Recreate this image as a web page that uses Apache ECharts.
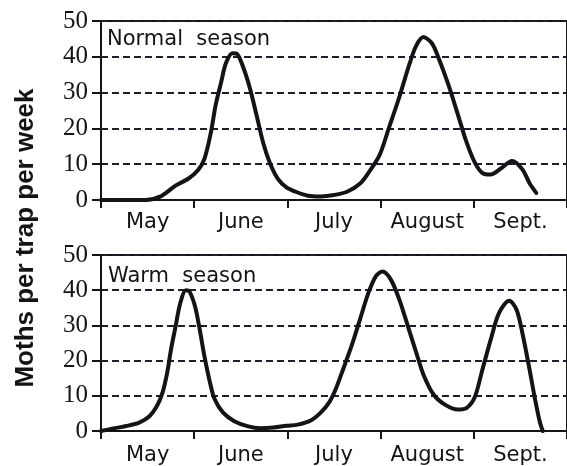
<!DOCTYPE html>
<html>
<head>
<meta charset="utf-8">
<script src="https://cdn.jsdelivr.net/npm/echarts@6/dist/echarts.min.js"></script>
<style>
html,body{margin:0;padding:0;background:#fff;}
#chart{width:567px;height:466px;}
</style>
</head>
<body>
<div id="chart"></div>
<script>
const months = ['May', 'June', 'July', 'August', 'Sept.'];
const yTicks = [0, 10, 20, 30, 40, 50];
const normalTitle = 'Normal  season';
const warmTitle = 'Warm  season';
const yTitle = 'Moths per trap per week';

// x positions in months from the start of May
const normalX = [0, 0.48, 0.64, 0.80, 0.94, 1.04, 1.11, 1.18, 1.23, 1.29, 1.34, 1.41, 1.46, 1.53, 1.60, 1.67, 1.74, 1.81, 1.90, 1.99, 2.08, 2.22, 2.36, 2.50, 2.64, 2.78, 2.88, 2.99, 3.09, 3.20, 3.31, 3.38, 3.46, 3.55, 3.62, 3.73, 3.83, 3.92, 4.01, 4.09, 4.18, 4.29, 4.41, 4.52, 4.60, 4.67];
const normalY = [0, 0, 1, 4, 6, 8.3, 11.5, 19, 26.5, 33, 38.2, 41, 40.8, 36.8, 31, 23.6, 16, 10.5, 5.8, 3.5, 2.4, 1.2, 1.0, 1.4, 2.3, 4.6, 8, 12.6, 20.2, 28.7, 38, 43, 45.5, 43.8, 39.8, 32, 23.8, 16.3, 10.5, 7.6, 7.1, 8.8, 10.9, 8.6, 4.6, 2];

const warmX = [0, 0.13, 0.27, 0.41, 0.52, 0.60, 0.66, 0.71, 0.75, 0.80, 0.85, 0.91, 0.95, 1.01, 1.06, 1.11, 1.17, 1.22, 1.31, 1.43, 1.57, 1.71, 1.85, 1.99, 2.11, 2.25, 2.36, 2.45, 2.52, 2.60, 2.69, 2.78, 2.87, 2.95, 3.02, 3.11, 3.20, 3.29, 3.38, 3.46, 3.57, 3.69, 3.83, 3.92, 4.01, 4.09, 4.18, 4.27, 4.38, 4.46, 4.53, 4.60, 4.66, 4.71, 4.74];
const warmY = [0, 0.7, 1.4, 2.4, 4.2, 7.1, 10.9, 16.5, 23, 29.7, 36.3, 40, 39.6, 35.3, 28.7, 21.2, 13.7, 9, 5.2, 2.8, 1.4, 0.8, 1.0, 1.5, 1.8, 3, 5.3, 8.2, 12, 17.7, 24.3, 31.8, 39.3, 44, 45.3, 43, 37.4, 30, 22.5, 16, 10.3, 7.5, 6.1, 6.5, 9.6, 17.2, 25.8, 33.5, 37, 34.4, 26.7, 17.2, 8.6, 2.4, 0];

const ink = '#141414';
const pair = (xs, ys) => xs.map((x, i) => [x, ys[i]]);

const chart = echarts.init(document.getElementById('chart'), null, {renderer: 'canvas'});

function grid(top, height) {
  return {
    left: 101, top: top, width: 475, height: height,
    show: true, borderColor: ink, borderWidth: 2, backgroundColor: 'transparent'
  };
}
function catAxis(gi, margin) {
  return {
    type: 'category', gridIndex: gi, position: 'bottom', data: months,
    boundaryGap: true,
    axisLine: {lineStyle: {color: ink, width: 2}},
    axisTick: {show: true, length: 8, lineStyle: {color: ink, width: 2}},
    axisLabel: {color: ink, fontFamily: 'DejaVu Sans', fontSize: 21, margin: margin, interval: 0},
    splitLine: {show: false}
  };
}
function valAxis(gi) {
  return {type: 'value', gridIndex: gi, min: 0, max: 5, show: false, position: 'bottom'};
}
function yAxis(gi) {
  return {
    type: 'value', gridIndex: gi, min: 0, max: 50, interval: 10,
    axisLine: {show: true, lineStyle: {color: ink, width: 2}},
    axisTick: {show: true, length: 9, lineStyle: {color: ink, width: 2}},
    axisLabel: {color: ink, fontFamily: 'Liberation Serif', fontSize: 25, margin: 13,
      formatter: v => yTicks.indexOf(v) >= 0 ? String(v) : ''},
    splitLine: {show: true, lineStyle: {color: '#1d1d2e', width: 2, type: [7, 4]}}
  };
}
function lineSeries(xi, yi, data) {
  return {
    type: 'line', xAxisIndex: xi, yAxisIndex: yi, data: data,
    showSymbol: false, smooth: 0.3,
    lineStyle: {color: ink, width: 4, join: 'round', cap: 'round'}, silent: true, animation: false
  };
}

chart.setOption({
  animation: false,
  backgroundColor: '#fff',
  grid: [grid(21, 179), grid(255, 177)],
  xAxis: [valAxis(0), catAxis(0, 12), valAxis(1), catAxis(1, 14)],
  yAxis: [yAxis(0), yAxis(1)],
  series: [
    lineSeries(0, 0, pair(normalX, normalY)),
    lineSeries(2, 1, pair(warmX, warmY))
  ],
  graphic: [
    {type: 'text', left: 107, top: 29, style: {text: normalTitle, fill: ink, font: '21px "DejaVu Sans"'}},
    {type: 'text', left: 108, top: 266, style: {text: warmTitle, fill: ink, font: '21px "DejaVu Sans"'}},
    {type: 'text', x: 26, y: 238, rotation: Math.PI / 2,
      style: {text: yTitle, fill: ink, font: 'bold 26px "Liberation Sans"', textAlign: 'center', textVerticalAlign: 'middle'}}
  ]
});
</script>
</body>
</html>
